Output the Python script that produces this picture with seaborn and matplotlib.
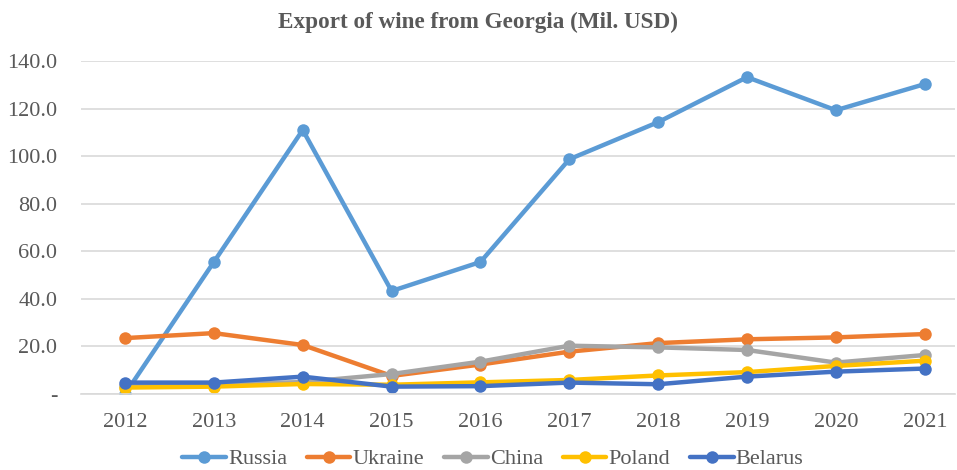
import matplotlib
matplotlib.use("Agg")
import matplotlib.pyplot as plt
import matplotlib.ticker as mticker
import seaborn as sns
import pandas as pd

years = [2012, 2013, 2014, 2015, 2016, 2017, 2018, 2019, 2020, 2021]
countries = ["Russia", "Ukraine", "China", "Poland", "Belarus"]
russia = [0.0, 55.5, 111.0, 43.3, 55.5, 98.7, 114.3, 133.2, 119.3, 130.3]
ukraine = [23.5, 25.6, 20.6, 7.6, 12.4, 17.8, 21.4, 23.0, 23.8, 25.2]
china = [3.5, 4.2, 5.0, 8.4, 13.6, 20.3, 19.6, 18.5, 13.2, 16.4]
poland = [2.7, 3.1, 4.2, 3.9, 4.9, 5.9, 7.8, 9.2, 11.8, 14.0]
belarus = [4.8, 4.8, 7.3, 3.1, 3.3, 4.8, 4.1, 7.3, 9.4, 10.7]
colors = ["#5B9BD5", "#ED7D31", "#A5A5A5", "#FFC000", "#4472C4"]

series = [russia, ukraine, china, poland, belarus]
df = pd.DataFrame(
    [(y, c, v) for c, vals in zip(countries, series) for y, v in zip(years, vals)],
    columns=["Year", "Country", "Value"],
)

sns.set_theme(style="white")
plt.rcParams["font.family"] = ["Liberation Serif", "DejaVu Serif"]

fig = plt.figure(figsize=(9.57, 4.7), dpi=100)
ax = fig.add_axes([81 / 957, 76 / 470, (955 - 81) / 957, (394 - 61) / 470])

sns.lineplot(
    data=df, x="Year", y="Value", hue="Country", hue_order=countries,
    palette=colors, marker="o", markersize=9, linewidth=3.2,
    markeredgewidth=0, ax=ax, legend=True,
)

ax.set_xlim(2011.505, 2021.34)
ax.set_ylim(0, 140)
ax.set_yticks([0, 20, 40, 60, 80, 100, 120, 140])
ax.yaxis.set_major_formatter(
    mticker.FuncFormatter(lambda v, p: "-" if v == 0 else f"{v:.1f}")
)
ax.set_xticks(years)
ax.set_xticklabels([str(y) for y in years])
ax.grid(axis="y", color="#D9D9D9", linewidth=1.2)
ax.set_axisbelow(True)
for s in ["top", "right", "left"]:
    ax.spines[s].set_visible(False)
ax.spines["bottom"].set_color("#D9D9D9")
ax.spines["bottom"].set_linewidth(1.2)
ax.tick_params(axis="both", colors="#595959", labelsize=16, length=0)
ax.tick_params(axis="y", pad=17)
ax.tick_params(axis="x", pad=14)
ax.set_xlabel("")
ax.set_ylabel("")

fig.text(0.5, 0.952, "Export of wine from Georgia (Mil. USD)", ha="center",
         va="center", fontsize=16.7, fontweight="bold", color="#595959")

handles, labels = ax.get_legend_handles_labels()
leg = ax.legend(handles, labels, loc="center", ncol=5, frameon=False,
                fontsize=16, labelcolor="#595959", handlelength=1.95,
                handletextpad=0.1, columnspacing=0.9,
                bbox_to_anchor=(493 / 957, 11 / 470),
                bbox_transform=fig.transFigure, borderpad=0.2)

fig.savefig("out.png", dpi=100)
